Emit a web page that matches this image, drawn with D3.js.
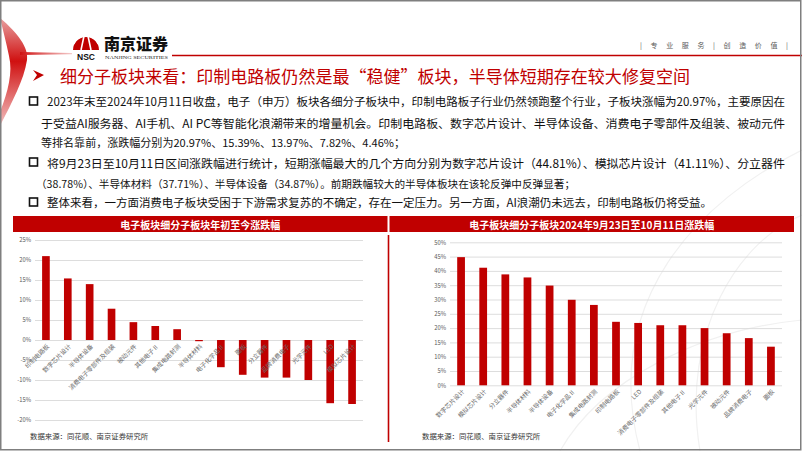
<!DOCTYPE html>
<html><head><meta charset="utf-8">
<script src="https://cdn.jsdelivr.net/npm/d3@7"></script>
<style>body{margin:0;background:#fff}svg{display:block}</style>
</head><body><svg id="c" width="802" height="451"></svg>
<script>
// ---------------- data ----------------
const ytdCategories = ["印制电路板","数字芯片设计","半导体设备","消费电子零部件及组装","被动元件","其他电子Ⅱ","集成电路封测","半导体材料","电子化学品Ⅱ","面板","分立器件","品牌消费电子","光学元件","LED","模拟芯片设计"];
const ytdValues = [20.97,15.39,13.97,7.82,4.46,3.5,2.7,-0.3,-6.8,-8.7,-9.4,-9.4,-10.0,-15.8,-16.0];
const ytdTicks = [25,20,15,10,5,0,-5,-10,-15,-20];

const recentCategories = ["数字芯片设计","模拟芯片设计","分立器件","半导体材料","半导体设备","电子化学品Ⅱ","集成电路封测","印制电路板","LED","消费电子零部件及组装","其他电子Ⅱ","光学元件","被动元件","品牌消费电子","面板"];
const recentValues = [44.81,41.11,38.78,37.71,34.87,29.9,28.1,22.2,21.8,21.0,21.0,20.0,18.2,16.5,13.5];
const recentTicks = [50,45,40,35,30,25,20,15,10,5,0];

const titleText = "细分子板块来看：印制电路板仍然是最“稳健”板块，半导体短期存在较大修复空间";
const bodyLines = [
 "2023年末至2024年10月11日收盘，电子（申万）板块各细分子板块中，印制电路板子行业仍然领跑整个行业，子板块涨幅为20.97%，主要原因在",
 "于受益AI服务器、AI手机、AI PC等智能化浪潮带来的增量机会。印制电路板、数字芯片设计、半导体设备、消费电子零部件及组装、被动元件",
 "等排名靠前，涨跌幅分别为20.97%、15.39%、13.97%、7.82%、4.46%；",
 "将9月23日至10月11日区间涨跌幅进行统计，短期涨幅最大的几个方向分别为数字芯片设计（44.81%）、模拟芯片设计（41.11%）、分立器件",
 "（38.78%）、半导体材料（37.71%）、半导体设备（34.87%）。前期跌幅较大的半导体板块在该轮反弹中反弹显著；",
 "整体来看，一方面消费电子板块受困于下游需求复苏的不确定，存在一定压力。另一方面，AI浪潮仍未远去，印制电路板仍将受益。"
];
const bulletLines = [0,3,5];
const leftTitle = "电子板块细分子板块年初至今涨跌幅";
const rightTitle = "电子板块细分子板块2024年9月23日至10月11日涨跌幅";
const sourceText = "数据来源：同花顺、南京证券研究所";

// ---------------- drawing ----------------
const RED = "#C00000";
const FONT = "'Noto Sans CJK SC','Noto Sans',sans-serif";
const svg = d3.select("#c").style("font-family", FONT);

const defs = svg.append("defs");
const g1 = defs.append("linearGradient").attr("id","sw").attr("x1",0).attr("y1",0).attr("x2",0).attr("y2",1);
g1.append("stop").attr("offset","0%").attr("stop-color","#e8a0a0");
g1.append("stop").attr("offset","40%").attr("stop-color","#d01010");
g1.append("stop").attr("offset","100%").attr("stop-color","#f2c0c0");
const g2 = defs.append("linearGradient").attr("id","ln").attr("x1",0).attr("y1",0).attr("x2",1).attr("y2",0);
g2.append("stop").attr("offset","0%").attr("stop-color","#d01010");
g2.append("stop").attr("offset","100%").attr("stop-color","#f4cccc");

svg.append("rect").attr("width",802).attr("height",451).attr("fill","#fff");

// faint background curves
["M640,451 C600,300 700,200 802,150","M700,451 C680,330 740,240 802,215","M560,451 C600,380 700,330 802,320"].forEach(d=>{
  svg.append("path").attr("d",d).attr("fill","none").attr("stroke","#f1f1f1").attr("stroke-width",1.2);
});

// left swoosh
svg.append("path").attr("d","M0,18 C18,33 29,48 27,60 C24,80 12,102 0,126 L0,112 C8,92 13,72 9,56 C6,42 3,30 0,18 Z").attr("fill","url(#sw)");
svg.append("path").attr("d","M20,52 L72,53 L72,54.2 L20,55 Z").attr("fill","url(#ln)");

// fit helper: shrink font so natural width fits, then stretch exactly
function fitText(sel, target, fs){
  sel.attr("font-size",fs);
  const w = sel.node().getComputedTextLength();
  if (w > target) sel.attr("font-size", fs*target/w*0.995);
  sel.attr("textLength",target).attr("lengthAdjust","spacingAndGlyphs");
  return sel;
}

// logo
const lg = svg.append("g");
lg.append("path").attr("d","M73,50 A13,13 0 0 1 99,50 Z").attr("fill",RED);
lg.append("path").attr("d","M74,44 A13,13 0 0 1 98,44").attr("fill","none").attr("stroke","#fff").attr("stroke-width",1.2);
lg.append("path").attr("d","M81,50 L84,36 M91,50 L88,36").attr("stroke","#fff").attr("stroke-width",1.6);
lg.append("text").attr("x",86).attr("y",59.5).attr("text-anchor","middle").attr("font-size",8.5).attr("font-weight","900")
  .attr("font-family","'Liberation Sans',Arial,sans-serif").attr("fill","#111").text("NSC");
fitText(lg.append("text").attr("x",104).attr("y",50).attr("font-weight","900").attr("fill","#111").text("南京证券"),64,17);
fitText(lg.append("text").attr("x",105).attr("y",58.5).attr("font-family","'Liberation Serif',serif").attr("fill","#222").text("NANJING SECURITIES"),63,4.6);
svg.append("line").attr("x1",172).attr("x2",802).attr("y1",55.5).attr("y2",55.5).attr("stroke",RED).attr("stroke-width",1.5);
svg.append("text").attr("x",640).attr("y",48).attr("font-size",7).attr("fill","#595959")
  .attr("textLength",148).attr("lengthAdjust","spacing").text("| 专 业 服 务 | 创 造 价 值 |");

// title
svg.append("path").attr("d","M33,70 L44,75 L33,81 L37,75 Z").attr("fill",RED);
fitText(svg.append("text").attr("x",60).attr("y",75).attr("dominant-baseline","central").attr("fill",RED).text(titleText),630,17);

// body text
const lineY = [101,122,142,162,183,202];
const lineX = [47,41,41,47,36,47];
const lineEnd = [785,785,405,785,575,712];
bodyLines.forEach((t,i)=>{
  fitText(svg.append("text").attr("x",lineX[i]).attr("y",lineY[i]).attr("dominant-baseline","central")
    .attr("fill","#111").text(t), lineEnd[i]-lineX[i], 12.3);
});
bulletLines.forEach(i=>{
  svg.append("rect").attr("x",29.5).attr("y",lineY[i]-4).attr("width",8).attr("height",8)
    .attr("fill","#fff").attr("stroke","#111").attr("stroke-width",1.6);
});

// headers
function header(x0,x1,txt){
  svg.append("rect").attr("x",x0).attr("y",216).attr("width",x1-x0).attr("height",16).attr("fill",RED);
  svg.append("text").attr("x",(x0+x1)/2).attr("y",224).attr("dominant-baseline","central").attr("text-anchor","middle")
    .attr("font-size",10).attr("font-weight","bold").attr("fill","#fff").text(txt);
}
header(13,387.5,leftTitle);
header(389.5,794,rightTitle);
svg.append("line").attr("x1",388.5).attr("x2",388.5).attr("y1",235).attr("y2",442).attr("stroke",RED).attr("stroke-width",1.6);

// chart helper
function chart(cats, vals, ticks, xr, yDom, yr){
  const x = d3.scaleBand().domain(cats).range(xr).paddingInner(0.65).paddingOuter(0.325);
  const y = d3.scaleLinear().domain(yDom).range(yr);
  const ax = svg.append("g").attr("transform",`translate(${xr[0]},0)`)
    .call(d3.axisLeft(y).tickValues(ticks).tickSize(-(xr[1]-xr[0])).tickFormat(d=>d+"%"));
  ax.select(".domain").remove();
  ax.selectAll(".tick line").attr("stroke","#d9d9d9").attr("stroke-width",0.9);
  ax.selectAll(".tick text").attr("x",-4).attr("font-size",5.8).attr("fill","#595959").attr("font-family",FONT);
  svg.append("g").selectAll("rect").data(vals).join("rect")
    .attr("x",(d,i)=>x(cats[i])).attr("width",x.bandwidth())
    .attr("y",d=>y(Math.max(0,d))).attr("height",d=>Math.abs(y(d)-y(0)))
    .attr("fill",RED);
  svg.append("g").selectAll("text").data(cats).join("text")
    .attr("transform",d=>`translate(${x(d)+x.bandwidth()/2+2},${y(0)+5}) rotate(-45)`)
    .attr("text-anchor","end").attr("dominant-baseline","central")
    .attr("font-size",6.2).attr("fill","#6b6b6b").text(d=>d);
}
chart(ytdCategories, ytdValues, ytdTicks, [35,363], [-20,25], [420,240]);
chart(recentCategories, recentValues, recentTicks, [450,782], [0,50], [385.3,242.3]);

// sources
[30,422].forEach(xx=>{
  svg.append("text").attr("x",xx).attr("y",435).attr("dominant-baseline","central").attr("font-size",7.4)
    .attr("fill","#333").text(sourceText);
});

// slide border
svg.append("rect").attr("x",0.75).attr("y",0.75).attr("width",800).attr("height",449).attr("fill","none")
  .attr("stroke","#7f7f7f").attr("stroke-width",1.5);
</script></body></html>
